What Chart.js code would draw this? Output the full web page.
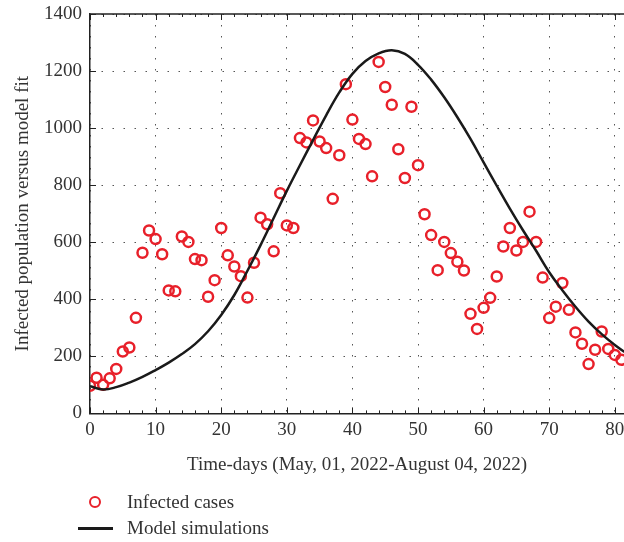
<!DOCTYPE html>
<html>
<head>
<meta charset="utf-8">
<script src="https://cdn.jsdelivr.net/npm/chart.js@4"></script>
<style>
  body { margin: 0; background: #fff; overflow: hidden; }
  #wrap { position: relative; width: 624px; height: 542px; font-family: "Liberation Serif", serif; color: #333; }
  .leg { position: absolute; left: 0; font-size: 19px; line-height: 20px; }
  .leg span.txt { position: absolute; left: 127px; white-space: nowrap; top: -10px; }
  .mark { position: absolute; left: 89px; top: -6px; width: 8px; height: 8px; border: 2.5px solid #e8202a; border-radius: 50%; }
  .ln { position: absolute; left: 78px; top: -1px; width: 35px; height: 3px; background: #1a1a1a; }
</style>
</head>
<body>
<div id="wrap">
  <canvas id="fitChart" width="624" height="542"></canvas>
  <div class="leg" style="top:502px"><div class="mark"></div><span class="txt">Infected cases</span></div>
  <div class="leg" style="top:528px"><div class="ln"></div><span class="txt">Model simulations</span></div>
</div>
<script>
// observed infected cases, one per day from day 0
const days = [];
for (let d = 0; d <= 81; d++) days.push(d);
const infected = [97, 125, 100, 123, 156, 217, 231, 335, 563, 641,
  611, 558, 431, 428, 620, 601, 541, 537, 409, 467,
  650, 554, 515, 481, 406, 528, 686, 663, 568, 772,
  659, 650, 965, 950, 1027, 953, 930, 752, 905, 1154,
  1030, 962, 944, 831, 1232, 1144, 1082, 926, 825, 1075,
  870, 698, 625, 502, 601, 562, 532, 501, 349, 296,
  370, 405, 480, 585, 650, 571, 601, 707, 601, 476,
  334, 374, 457, 363, 284, 244, 173, 223, 287, 226,
  205, 188];

// model curve, every 2 days
const modelDays = [0, 2, 4, 6, 8, 10, 12, 14, 16, 18, 20, 22, 24, 26, 28, 30, 32, 34, 36, 38, 40,
  42, 44, 46, 48, 50, 52, 54, 56, 58, 60, 62, 64, 66, 68, 70, 72, 74, 76, 78, 80, 82];
const modelVals = [95, 84, 92, 108, 128, 152, 178, 208, 243, 288, 345, 415, 500, 590, 685, 780, 870, 958, 1045, 1125, 1190,
  1235, 1262, 1273, 1260, 1222, 1170, 1108, 1038, 962, 880, 798, 718, 642, 570, 495, 432, 374, 322, 278, 240, 207];

const xTicks = [0, 10, 20, 30, 40, 50, 60, 70, 80];
const yTicks = [0, 200, 400, 600, 800, 1000, 1200, 1400];

const font = { family: "'Liberation Serif', serif", size: 19 };
const titleFont = { family: "'Liberation Serif', serif", size: 19, lineHeight: 1 };
const txtColor = '#333';

// box top edge + inward tick marks like the original matlab figure
const frameTicks = {
  id: 'frameTicks',
  afterDraw(chart) {
    const c = chart.ctx, a = chart.chartArea;
    const xs = chart.scales.x, ys = chart.scales.y;
    c.save();
    c.strokeStyle = '#222';
    c.lineWidth = 1.5;
    c.beginPath();
    c.moveTo(a.left, a.top);
    c.lineTo(a.right + 2, a.top);
    c.stroke();
    c.lineWidth = 1;
    c.beginPath();
    for (let d = 0; d <= 81; d += 2) {
      const px = Math.round(xs.getPixelForValue(d)) + 0.5;
      const len = d % 10 === 0 ? 6 : 3;
      c.moveTo(px, a.bottom); c.lineTo(px, a.bottom - len);
      c.moveTo(px, a.top); c.lineTo(px, a.top + len);
    }
    yTicks.forEach(v => {
      const py = Math.round(ys.getPixelForValue(v)) + 0.5;
      c.moveTo(a.left, py); c.lineTo(a.left + 6, py);
    });
    c.stroke();
    c.restore();
  }
};

new Chart(document.getElementById('fitChart'), {
  type: 'scatter',
  data: {
    datasets: [
      {
        label: 'Model simulations',
        type: 'line',
        data: modelDays.map((d, i) => ({ x: d, y: modelVals[i] })),
        borderColor: '#1a1a1a',
        borderWidth: 2.5,
        pointRadius: 0,
        fill: false,
        tension: 0.4,
        order: 0
      },
      {
        label: 'Infected cases',
        data: days.map((d, i) => ({ x: d, y: infected[i] })),
        pointStyle: 'circle',
        pointRadius: 5,
        borderWidth: 2.5,
        borderColor: '#e8202a',
        backgroundColor: 'rgba(0,0,0,0)',
        order: 1
      }
    ]
  },
  options: {
    responsive: false,
    animation: false,
    devicePixelRatio: 1,
    layout: { autoPadding: false, padding: { left: 14, right: 0, top: 14, bottom: 66 } },
    plugins: { legend: { display: false }, tooltip: { enabled: false } },
    scales: {
      x: {
        type: 'linear',
        min: 0,
        max: 81.4,
        afterBuildTicks: s => { s.ticks = xTicks.map(v => ({ value: v })); },
        afterFit: s => { s.paddingLeft = 0; s.paddingRight = 0; },
        ticks: { font: font, color: txtColor, padding: 5, maxRotation: 0, callback: v => String(v) },
        grid: { color: '#555', lineWidth: 1, drawTicks: false },
        border: { color: '#222', width: 1.5, dash: [1.5, 9.5] },
        title: { display: true, text: 'Time-days (May, 01, 2022-August 04, 2022)', font: font, color: txtColor, padding: { top: 7, bottom: 0 } }
      },
      y: {
        min: 0,
        max: 1400,
        afterBuildTicks: s => { s.ticks = yTicks.map(v => ({ value: v })); },
        afterFit: s => { s.paddingTop = 0; s.paddingBottom = 0; s.width = 76; },
        ticks: { font: font, color: txtColor, padding: 8, callback: v => String(v) },
        grid: { color: '#555', lineWidth: 1, drawTicks: false },
        border: { color: '#222', width: 1.5, dash: [1.5, 9.5] },
        title: { display: true, text: 'Infected population versus model fit', font: titleFont, color: txtColor, padding: { top: 0, bottom: 6 } }
      }
    }
  },
  plugins: [frameTicks]
});
</script>
</body>
</html>
